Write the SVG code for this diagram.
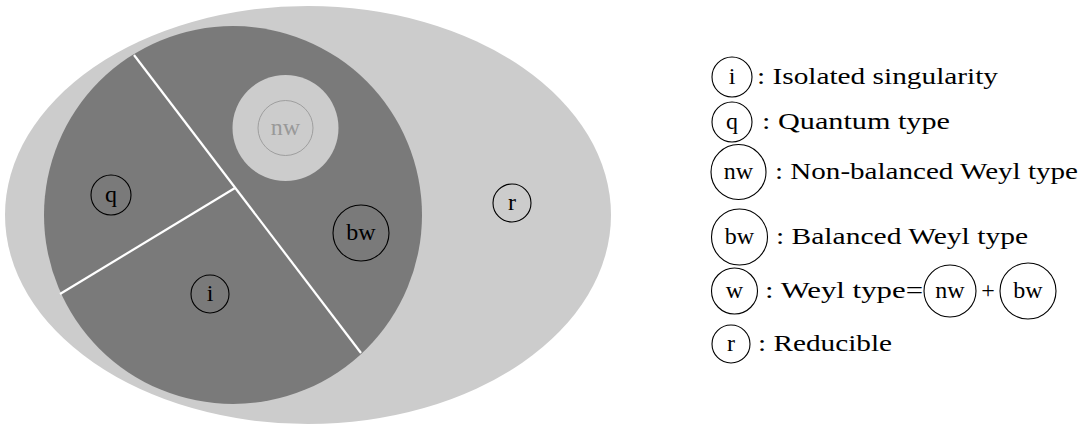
<svg xmlns="http://www.w3.org/2000/svg" width="1083" height="427" viewBox="0 0 1083 427">
<style>
text{font-family:"Liberation Serif","Times New Roman",serif;font-size:24px;fill:#000}
.lbl{text-anchor:middle}
.c{fill:none;stroke:#000;stroke-width:1.1}
.cg{fill:none;stroke:#999;stroke-width:0.9}
.tg{fill:#999}
.sep{stroke:#fff;stroke-width:2.2;fill:none}
</style>
<rect width="1083" height="427" fill="#fff"/>
<g id="reducible-region">
<ellipse cx="308" cy="215" rx="303" ry="209" fill="#cccccc"/>
</g>
<g id="irreducible-region">
<circle cx="233" cy="215" r="189" fill="#7a7a7a"/>
</g>
<g id="nw-region">
<circle cx="285.5" cy="128" r="53" fill="#cccccc"/>
</g>
<g id="separators">
<line class="sep" x1="134" y1="55" x2="361" y2="353"/>
<line class="sep" x1="235" y1="188" x2="60" y2="294"/>
</g>
<g id="node-nw">
<circle class="cg" cx="285.5" cy="128" r="27.5"/>
<text class="lbl tg" x="285.5" y="135">nw</text>
</g>
<g id="node-q">
<circle class="c" cx="111" cy="195" r="20"/>
<text class="lbl" x="111" y="202">q</text>
</g>
<g id="node-bw">
<circle class="c" cx="361" cy="233" r="28"/>
<text class="lbl" x="361" y="240">bw</text>
</g>
<g id="node-i">
<circle class="c" cx="210" cy="294" r="19"/>
<text class="lbl" x="210" y="301">i</text>
</g>
<g id="node-r">
<circle class="c" cx="512" cy="203" r="19"/>
<text class="lbl" x="512" y="210">r</text>
</g>
<g id="legend">
<g id="legend-i">
<circle class="c" cx="732" cy="77" r="20"/>
<text class="lbl" x="732" y="84">i</text>
<text x="757" y="84" textLength="241" lengthAdjust="spacingAndGlyphs">: Isolated singularity</text>
</g>
<g id="legend-q">
<circle class="c" cx="732" cy="122" r="20"/>
<text class="lbl" x="732" y="129">q</text>
<text x="762" y="129" textLength="188" lengthAdjust="spacingAndGlyphs">: Quantum type</text>
</g>
<g id="legend-nw">
<circle class="c" cx="738.5" cy="172" r="27.5"/>
<text class="lbl" x="738.5" y="179">nw</text>
<text x="775" y="179" textLength="303" lengthAdjust="spacingAndGlyphs">: Non-balanced Weyl type</text>
</g>
<g id="legend-bw">
<circle class="c" cx="739.5" cy="237" r="28"/>
<text class="lbl" x="739.5" y="244">bw</text>
<text x="776" y="244" textLength="252" lengthAdjust="spacingAndGlyphs">: Balanced Weyl type</text>
</g>
<g id="legend-w">
<circle class="c" cx="734.5" cy="291" r="23"/>
<text class="lbl" x="734.5" y="298">w</text>
<text x="765" y="298" textLength="158" lengthAdjust="spacingAndGlyphs">: Weyl type=</text>
<circle class="c" cx="950" cy="291" r="26"/>
<text class="lbl" x="950" y="298">nw</text>
<text class="lbl" x="988" y="298">+</text>
<circle class="c" cx="1028" cy="291" r="28"/>
<text class="lbl" x="1028" y="298">bw</text>
</g>
<g id="legend-r">
<circle class="c" cx="731" cy="344" r="19"/>
<text class="lbl" x="731" y="351">r</text>
<text x="758" y="351" textLength="134" lengthAdjust="spacingAndGlyphs">: Reducible</text>
</g>
</g>
</svg>
